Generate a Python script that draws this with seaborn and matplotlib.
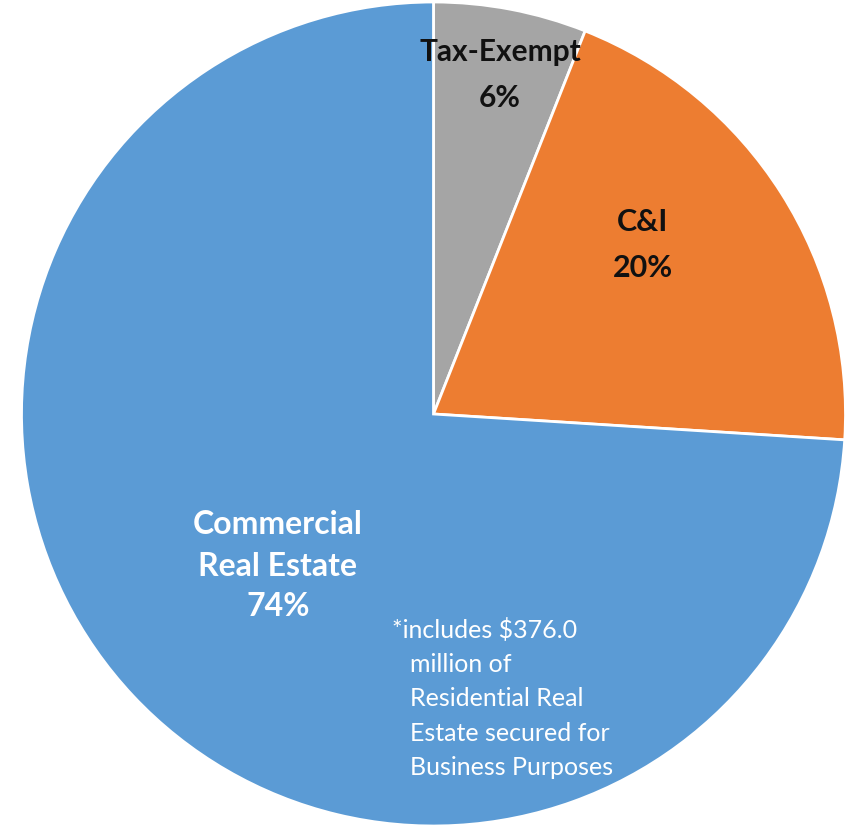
import matplotlib
matplotlib.use("Agg")
import matplotlib.pyplot as plt
import seaborn as sns

# Loan portfolio composition
categories = ["Tax-Exempt", "C&I", "Commercial\nReal Estate"]
shares = [6, 20, 74]
colors = ["#A5A5A5", "#ED7D31", "#5B9BD5"]
footnote_lines = [
    "*includes $376.0",
    "million of",
    "Residential Real",
    "Estate secured for",
    "Business Purposes",
]

sns.set_theme(style="white")
plt.rcParams["font.family"] = ["Lato", "DejaVu Sans"]

W, H = 846, 828
fig = plt.figure(figsize=(W / 100, H / 100), dpi=100)
ax = fig.add_axes([0, 0, 1, 1])

ax.pie(
    shares,
    colors=sns.color_palette(colors),
    startangle=90,
    counterclock=False,
    radius=1.0,
    wedgeprops=dict(edgecolor="white", linewidth=2),
)

# circle center and radius in pixels
cx, cy, r = 433.5, 415.0, 412.0
ax.set_xlim(-cx / r, (W - cx) / r)
ax.set_ylim(-(H - cy) / r, cy / r)
ax.set_aspect("equal", adjustable="datalim")
ax.axis("off")


def fpos(x, y):
    return x / W, 1 - y / H


def stacked(x, ys, lines, color, size):
    for yy, line in zip(ys, lines):
        ax.text(*fpos(x, yy), line, ha="center", va="center", fontsize=size,
                fontweight="bold", color=color, transform=fig.transFigure)


stacked(500, [52, 98], [categories[0], f"{shares[0]}%"], "#111111", 21.5)
stacked(643, [222, 268], [categories[1], f"{shares[1]}%"], "#111111", 22)
stacked(278, [524, 566, 607], categories[2].split("\n") + [f"{shares[2]}%"],
        "white", 23)

# footnote inside the commercial real estate slice
y0 = 630
for i, line in enumerate(footnote_lines):
    x = 392 if i == 0 else 410
    ax.text(*fpos(x, y0 + i * 34.5), line, ha="left", va="center",
            fontsize=18, color="white", transform=fig.transFigure)

fig.savefig("out.png", dpi=100, facecolor="white")
